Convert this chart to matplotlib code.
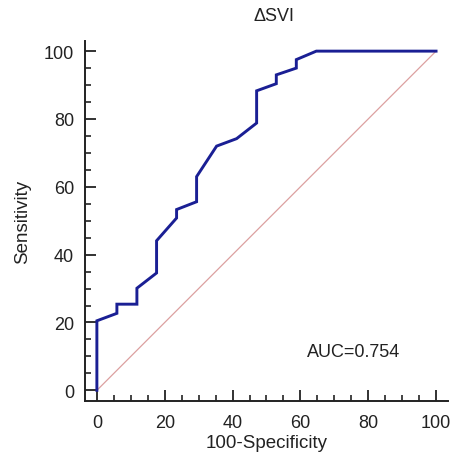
import matplotlib

matplotlib.use("Agg")
import matplotlib.pyplot as plt
from matplotlib.ticker import MultipleLocator

plt.rcParams["font.family"] = ["Liberation Sans", "DejaVu Sans"]

# ROC curve points (100-Specificity, Sensitivity)
fpr = [0, 0, 5.9, 5.9, 11.8, 11.8, 17.6, 17.6, 23.5, 23.5, 29.4, 29.4,
       35.3, 41.2, 47.1, 47.1, 52.9, 52.9, 58.8, 58.8, 64.7, 100]
tpr = [0, 20.5, 22.7, 25.4, 25.4, 30.1, 34.6, 44.1, 50.8, 53.3, 55.6, 63.0,
       72.0, 74.2, 78.8, 88.3, 90.4, 93.0, 95.0, 97.5, 100, 100]
ref_line = [0, 100]
auc_label = "AUC=0.754"
title = "\u0394SVI"

fig = plt.figure(figsize=(4.58, 4.56), dpi=100)
ax = fig.add_axes([0.1856, 0.118, 0.7924, 0.79])

ax.plot(ref_line, ref_line, color="#dca0a0", linewidth=0.9, zorder=2)
ax.plot(fpr, tpr, color="#1a1f94", linewidth=2.1, zorder=3,
        solid_joinstyle="miter")

ax.set_xlim(-3.5, 103.5)
ax.set_ylim(-3.2, 103)
ax.xaxis.set_major_locator(MultipleLocator(20))
ax.xaxis.set_minor_locator(MultipleLocator(5))
ax.yaxis.set_major_locator(MultipleLocator(20))
ax.yaxis.set_minor_locator(MultipleLocator(5))

for s in ("top", "right"):
    ax.spines[s].set_visible(False)
for s in ("left", "bottom"):
    ax.spines[s].set_linewidth(1.4)
    ax.spines[s].set_color("#222222")

ax.tick_params(which="major", direction="in", length=8, width=1.3,
               labelsize=13, pad=8, color="#222222", labelcolor="#222222")
ax.tick_params(which="minor", direction="in", length=4.3, width=1.2,
               color="#222222")
ax.tick_params(axis="x", which="major", pad=9.5)

ax.set_xlabel("100-Specificity", fontsize=13.5, labelpad=2, color="#222222")
ax.set_ylabel("Sensitivity", fontsize=13.5, labelpad=9, color="#222222")
ax.set_title(title, fontsize=13, pad=15, x=0.52, color="#222222")

ax.text(62, 11.5, auc_label, fontsize=13, va="center", ha="left",
        color="#222222")

fig.savefig("out.png", dpi=100)
